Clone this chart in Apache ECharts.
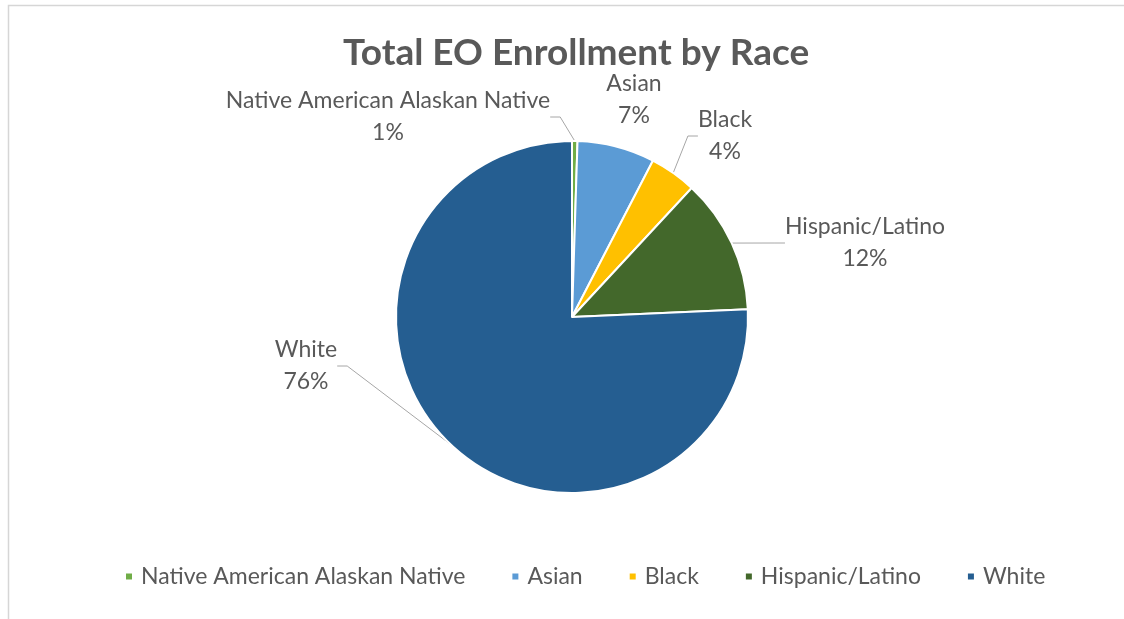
<!DOCTYPE html>
<html><head><meta charset="utf-8">
<script src="https://cdn.jsdelivr.net/npm/echarts@6/dist/echarts.min.js"></script>
<style>html,body{margin:0;padding:0;background:#fff}#c{width:1124px;height:619px}</style>
</head><body><div id="c"></div>
<script>
const categories = ['Native American Alaskan Native', 'Asian', 'Black', 'Hispanic/Latino', 'White'];
const shares = [0.5, 7.1, 4.3, 12.4, 75.7];
const colors = ['#70ad47', '#5b9bd5', '#ffc000', '#43682b', '#255e91'];
// label centre offsets from the pie centre (layout only)
const labelOffsets = [[-184, -200], [62, -217], [153, -181], [293, -74], [-266, 49]];

const chart = echarts.init(document.getElementById('c'));
const cx = 572, cy = 317, R = 176;
const FONT = 'Lato';
chart.setOption({
  animation: false,
  title: {
    text: 'Total EO Enrollment by Race', left: 338, top: 30,
    textStyle: { fontFamily: FONT, fontSize: 37, fontWeight: 'bold', color: '#595959' }
  },
  graphic: [{ type: 'rect', shape: { x: 8.5, y: 5.5, width: 1200, height: 700 }, style: { fill: 'none', stroke: '#d6d6d6', lineWidth: 1.5 }, silent: true }],
  legend: {
    bottom: 26, left: 119, icon: 'rect', itemWidth: 8, itemHeight: 8, itemGap: 45,
    textStyle: { fontFamily: FONT, fontSize: 23, color: '#595959', padding: [0, 0, 0, 3] },
    data: categories
  },
  series: [{
    type: 'pie', center: [cx, cy], radius: R, startAngle: 90, clockwise: true,
    itemStyle: { borderColor: '#fff', borderWidth: 2 },
    label: {
      show: true, position: 'outside',
      formatter: p => p.name + '\n' + Math.round(p.percent) + '%',
      fontFamily: FONT, fontSize: 23, color: '#595959', lineHeight: 32, align: 'center'
    },
    labelLine: { show: true, lineStyle: { color: '#a6a6a6', width: 1 }, length: 10, length2: 10 },
    labelLayout: function (p) {
      const o = labelOffsets[p.dataIndex];
      return { x: cx + o[0], y: cy + o[1], align: 'center', verticalAlign: 'middle' };
    },
    data: categories.map((n, i) => ({
      name: n, value: shares[i], itemStyle: { color: colors[i] },
      labelLine: { show: i !== 1 }
    }))
  }]
});
</script></body></html>
